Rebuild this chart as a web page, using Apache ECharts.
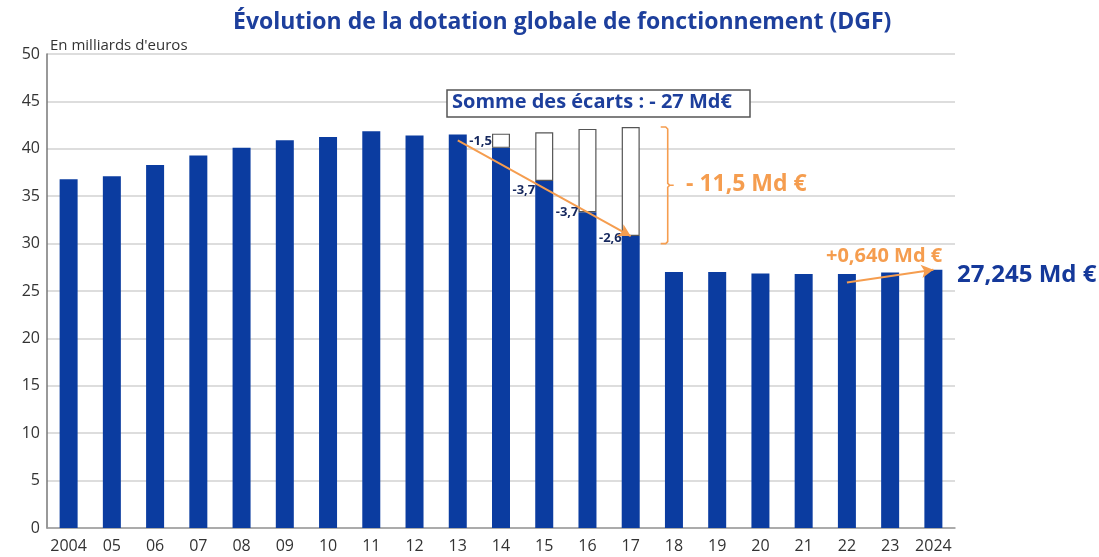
<!DOCTYPE html>
<html>
<head>
<meta charset="utf-8">
<script src="https://cdn.jsdelivr.net/npm/echarts@6/dist/echarts.min.js"></script>
<style>
html,body{margin:0;padding:0;background:#fff}
#chart{width:1099px;height:557px}
</style>
</head>
<body>
<div id="chart"></div>
<script>
// données (Md €)
var annees = ['2004','05','06','07','08','09','10','11','12','13','14','15','16','17','18','19','20','21','22','23','2024'];
var dgf = [36.8,37.1,38.3,39.3,40.1,40.9,41.25,41.85,41.4,41.5,40.1,36.6,33.3,30.8,27.0,27.0,26.85,26.8,26.8,26.95,27.25];
// niveau qu'aurait eu la DGF sans les baisses 2014-2017
var sansBaisse = [null,null,null,null,null,null,null,null,null,null,41.6,41.75,42.1,42.3,null,null,null,null,null,null,null];
var ecarts = [null,null,null,null,null,null,null,null,null,null,'-1,5','-3,7','-3,7','-2,6',null,null,null,null,null,null,null];

var bleu = '#0b3ca0';
var orange = '#f59d4f';
var police = 'Open Sans';

var myChart = echarts.init(document.getElementById('chart'));

// décalage vertical des étiquettes d'écart
var decalY = {10: -7, 11: 9, 12: 0, 13: 2};

var dataDgf = dgf.map(function (v, i) {
    if (!ecarts[i]) return v;
    return {
        value: v,
        label: {
            show: true,
            formatter: ecarts[i],
            position: [0, decalY[i]],
            align: 'right',
            verticalAlign: 'middle',
            color: '#16285e',
            fontWeight: 'bold',
            fontSize: 13,
            fontFamily: police
        }
    };
});
var dataEcart = dgf.map(function (v, i) {
    return sansBaisse[i] == null ? null : +(sansBaisse[i] - v).toFixed(2);
});

var option = {
    animation: false,
    title: {
        text: 'Évolution de la dotation globale de fonctionnement (DGF)',
        left: 228,
        top: 6,
        textStyle: {color: '#1d3f9c', fontSize: 23, fontWeight: 'bold', fontFamily: police}
    },
    grid: {left: 47, right: 144, top: 54, bottom: 29},
    xAxis: {
        type: 'category',
        data: annees,
        axisTick: {show: false},
        axisLine: {lineStyle: {color: '#9a9a9a', width: 1.5}},
        axisLabel: {color: '#333', fontSize: 16, fontFamily: police, margin: 10, interval: 0}
    },
    yAxis: {
        type: 'value',
        min: 0,
        max: 50,
        interval: 5,
        axisLine: {show: true, lineStyle: {color: '#777', width: 1.5}},
        axisTick: {show: false},
        axisLabel: {color: '#333', fontSize: 16, fontFamily: police, margin: 7},
        splitLine: {lineStyle: {color: '#d2d2d2', width: 1.5}}
    },
    series: [
        {
            name: 'DGF',
            type: 'bar',
            stack: 'dgf',
            barWidth: 18,
            data: dataDgf,
            itemStyle: {color: bleu},
            markLine: {
                silent: true,
                symbol: ['none', 'arrow'],
                symbolSize: [10, 12],
                label: {show: false},
                lineStyle: {color: orange, width: 2, type: 'solid'},
                data: [
                    [{coord: ['13', dgf[9] - 0.6]}, {coord: ['17', dgf[13]]}],
                    [{coord: ['22', dgf[18] - 0.9]}, {coord: ['2024', dgf[20]]}]
                ]
            }
        },
        {
            name: 'Écarts',
            type: 'bar',
            stack: 'dgf',
            barWidth: 18,
            data: dataEcart,
            itemStyle: {color: '#fff', borderColor: '#555', borderWidth: 1.2}
        }
    ]
};
myChart.setOption(option);

// accolade et annotations
var haut = myChart.convertToPixel({gridIndex: 0}, ['17', sansBaisse[13]]);
var bas = myChart.convertToPixel({gridIndex: 0}, ['17', dgf[13] - 0.8]);
var bx = haut[0] + 37;
var by1 = haut[1];
var by2 = bas[1];
var bym = (by1 + by2) / 2;

myChart.setOption({
    graphic: [
        {
            type: 'text',
            left: 50,
            top: 38,
            style: {text: 'En milliards d\'euros', fill: '#333', fontSize: 15, fontFamily: police}
        },
        {
            type: 'polyline',
            shape: {points: [[bx - 7, by1], [bx - 2, by1], [bx, by1 + 2], [bx, bym - 2], [bx + 2, bym], [bx + 6, bym]]},
            style: {stroke: orange, lineWidth: 1.6, fill: null}
        },
        {
            type: 'polyline',
            shape: {points: [[bx + 2, bym], [bx, bym + 2], [bx, by2 - 2], [bx - 2, by2], [bx - 7, by2]]},
            style: {stroke: orange, lineWidth: 1.6, fill: null}
        },
        {
            type: 'text',
            left: 686,
            top: bym - 12,
            style: {text: '- 11,5 Md €', fill: orange, fontSize: 23, fontWeight: 'bold', fontFamily: police}
        },
        {
            type: 'rect',
            shape: {x: 447, y: 90, width: 303, height: 27},
            style: {fill: '#fff', stroke: '#555', lineWidth: 1.5}
        },
        {
            type: 'text',
            left: 452,
            top: 92,
            style: {text: 'Somme des écarts : - 27 Md€', fill: '#1d3f9c', fontSize: 20, fontWeight: 'bold', fontFamily: police}
        },
        {
            type: 'text',
            left: 826,
            top: 246,
            style: {text: '+0,640 Md €', fill: orange, fontSize: 20, fontWeight: 'bold', fontFamily: police}
        },
        {
            type: 'text',
            left: 957,
            top: 263,
            style: {text: '27,245 Md €', fill: '#15399a', fontSize: 24, fontWeight: 'bold', fontFamily: police}
        }
    ]
});
</script>
</body>
</html>
